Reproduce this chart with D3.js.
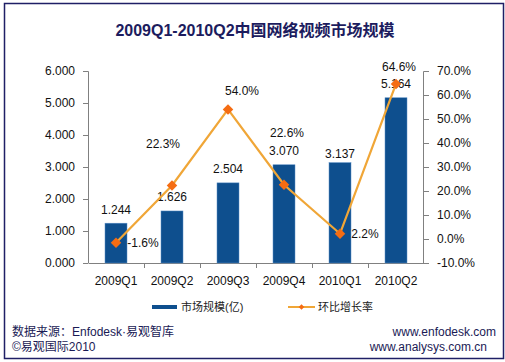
<!DOCTYPE html>
<html>
<head>
<meta charset="utf-8">
<script src="https://d3js.org/d3.v7.min.js"></script>
<style>
  body { margin: 0; background: #fff; }
  text { font-family: "Liberation Sans", Arial, "Noto Sans CJK SC", sans-serif; }
</style>
</head>
<body>
<div id="chart"></div>
<script>
var quarters = ["2009Q1", "2009Q2", "2009Q3", "2009Q4", "2010Q1", "2010Q2"];
var marketSize = [1.244, 1.626, 2.504, 3.070, 3.137, 5.164];
var growthRate = [-1.6, 22.3, 54.0, 22.6, 2.2, 64.6];
var leftTicks = [0, 1, 2, 3, 4, 5, 6];
var rightTicks = [-10, 0, 10, 20, 30, 40, 50, 60, 70];
// label offsets relative to bar top / marker
var sizeLabelDy = [-9, -10, -10, -10, -5, -10];
var rateLabelPos = [[27, 0], [-9, -41], [14, -18], [3, -52], [25, 0], [3, -17]];

var W = 505, H = 362;
var margin = { top: 71, right: 81, bottom: 99, left: 88 };
var width = W - margin.left - margin.right;
var height = H - margin.top - margin.bottom;

var fmt1 = d => d.toFixed(1) + "%";
var fmt3 = d => d.toFixed(3);

var svg = d3.select("#chart").append("svg")
  .attr("width", W)
  .attr("height", H);

svg.append("rect")
  .attr("x", 4.5).attr("y", 3.5)
  .attr("width", 499).attr("height", 355)
  .attr("fill", "#fff")
  .attr("stroke", "#1f1f66")
  .attr("stroke-width", 1.5);

svg.append("text")
  .attr("x", 255).attr("y", 36)
  .attr("text-anchor", "middle")
  .attr("font-size", 16)
  .attr("font-weight", "bold")
  .attr("fill", "#1c1c5e")
  .text("2009Q1-2010Q2中国网络视频市场规模");

var g = svg.append("g")
  .attr("transform", `translate(${margin.left},${margin.top})`);

var x = d3.scaleBand().domain(quarters).range([0, width]).paddingInner(0).paddingOuter(0);
var y = d3.scaleLinear().domain([0, 6]).range([height, 0]);
var y2 = d3.scaleLinear().domain([-10, 70]).range([height, 0]);

var leftAxis = d3.axisLeft(y).tickValues(leftTicks).tickFormat(fmt3).tickSize(5).tickPadding(8);
var rightAxis = d3.axisRight(y2).tickValues(rightTicks).tickFormat(fmt1).tickSize(5).tickPadding(8);

function styleAxis(sel) {
  sel.select(".domain").attr("stroke", "#808080");
  sel.selectAll(".tick line").attr("stroke", "#808080");
  sel.selectAll(".tick text").attr("font-size", 12).attr("fill", "#111")
    .style("font-family", '"Liberation Sans", Arial, sans-serif');
}

g.append("g").call(leftAxis).call(styleAxis)
  .call(s => s.select(".domain").attr("d", `M-5,0.5H0.5V${height}`));
g.append("g").attr("transform", `translate(${width},0)`).call(rightAxis).call(styleAxis)
  .call(s => s.select(".domain").attr("d", `M5,0.5H-0.5V${height}`));

// x axis line with ticks between categories
var xAxis = d3.axisBottom(x).tickSize(0).tickPadding(13);
var xg = g.append("g").attr("transform", `translate(0,${height})`).call(xAxis);
xg.select(".domain").attr("stroke", "#808080");
xg.selectAll(".tick text").attr("font-size", 12).attr("fill", "#111");
g.append("g").selectAll("line")
  .data(quarters.slice(1))
  .enter().append("line")
  .attr("x1", d => x(d) + 0.5).attr("x2", d => x(d) + 0.5)
  .attr("y1", height).attr("y2", height + 5)
  .attr("stroke", "#808080");

var barW = 22;
g.selectAll(".bar")
  .data(marketSize)
  .enter().append("rect")
  .attr("class", "bar")
  .attr("x", (d, i) => x(quarters[i]) + x.bandwidth() / 2 - barW / 2)
  .attr("y", d => y(d))
  .attr("width", barW)
  .attr("height", d => height - y(d))
  .attr("fill", "#0e4f8e")
  .attr("stroke", "#5b8fc6")
  .attr("stroke-width", 0.5);

g.selectAll(".barLabel")
  .data(marketSize)
  .enter().append("text")
  .attr("x", (d, i) => x(quarters[i]) + x.bandwidth() / 2)
  .attr("y", (d, i) => y(d) + sizeLabelDy[i])
  .attr("text-anchor", "middle")
  .attr("font-size", 12)
  .attr("fill", "#111")
  .text(fmt3);

var line = d3.line()
  .x((d, i) => x(quarters[i]) + x.bandwidth() / 2)
  .y(d => y2(d));

g.append("path")
  .datum(growthRate)
  .attr("d", line)
  .attr("fill", "none")
  .attr("stroke", "#f0a637")
  .attr("stroke-width", 2.2);

var diamond = d3.symbol().type(d3.symbolDiamond2).size(70);
g.selectAll(".marker")
  .data(growthRate)
  .enter().append("path")
  .attr("d", diamond)
  .attr("transform", (d, i) => `translate(${x(quarters[i]) + x.bandwidth() / 2},${y2(d)})`)
  .attr("fill", "#f56c12");

g.selectAll(".rateLabel")
  .data(growthRate)
  .enter().append("text")
  .attr("x", (d, i) => x(quarters[i]) + x.bandwidth() / 2 + rateLabelPos[i][0])
  .attr("y", (d, i) => y2(d) + rateLabelPos[i][1] + 4)
  .attr("text-anchor", "middle")
  .attr("font-size", 12)
  .attr("fill", "#111")
  .text(fmt1);

// legend
var leg = svg.append("g").attr("transform", "translate(0,307)");
leg.append("rect").attr("x", 152).attr("y", -2).attr("width", 25).attr("height", 4).attr("fill", "#0e4f8e");
leg.append("text").attr("x", 181).attr("y", 4).attr("font-size", 11).attr("fill", "#222").text("市场规模(亿)");
leg.append("line").attr("x1", 288).attr("x2", 315).attr("y1", 0).attr("y2", 0)
  .attr("stroke", "#f0a637").attr("stroke-width", 2);
leg.append("path").attr("d", d3.symbol().type(d3.symbolDiamond2).size(20))
  .attr("transform", "translate(301.5,0)").attr("fill", "#f56c12");
leg.append("text").attr("x", 318).attr("y", 4).attr("font-size", 11).attr("fill", "#222").text("环比增长率");

// footer
var foot = svg.append("g").attr("font-size", 12).attr("fill", "#1a1a55");
foot.append("text").attr("x", 12).attr("y", 336).text("数据来源：Enfodesk·易观智库");
foot.append("text").attr("x", 12).attr("y", 351).text("©易观国际2010");
foot.append("text").attr("x", 496).attr("y", 336).attr("text-anchor", "end").text("www.enfodesk.com");
foot.append("text").attr("x", 487).attr("y", 351).attr("text-anchor", "end").text("www.analysys.com.cn");
</script>
</body>
</html>
